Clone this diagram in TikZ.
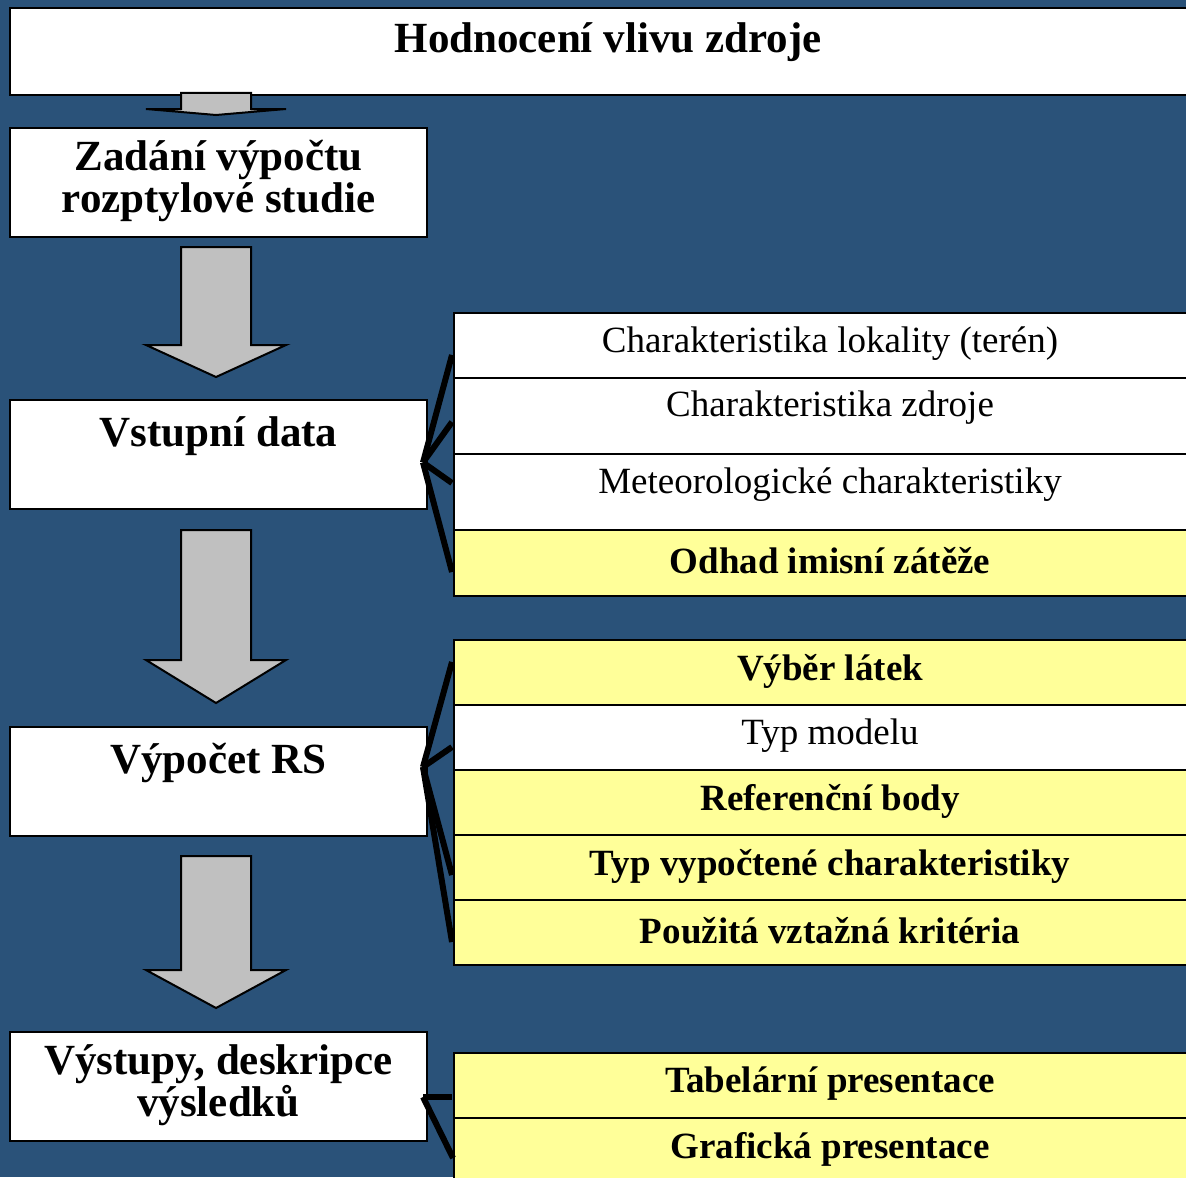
\documentclass[tikz,border=0pt]{standalone}
\usepackage{fontspec}
\setmainfont{Liberation Serif}
\usetikzlibrary{calc,positioning}

\definecolor{slide}{RGB}{42,82,121}
\definecolor{note}{RGB}{255,255,153}
\definecolor{shaft}{RGB}{192,192,192}

\tikzset{
  stagebox/.style={draw=black, line width=1pt, fill=white, rectangle, inner sep=0pt,
    outer sep=0pt, anchor=north west, minimum width=208.5pt, minimum height=54.5pt},
  rowbox/.style={draw=black, line width=1pt, fill=white, rectangle, inner sep=0pt,
    outer sep=0pt, anchor=north west, minimum width=376pt, minimum height=32.5pt},
  rowhi/.style={rowbox, fill=note},
  stagetxt/.style={font=\fontsize{21.5}{18.5}\selectfont\bfseries, align=center, inner sep=0pt},
  rowtxt/.style={font=\fontsize{18.5}{22}\selectfont, inner sep=0pt},
  rowbold/.style={rowtxt, font=\fontsize{18.5}{22}\selectfont\bfseries},
  blockarrow/.style={draw=black, line width=1pt, fill=shaft, line join=miter},
  brack/.style={draw=black, line width=3pt}
}

% block arrow: top, neck, tip (y values)
\newcommand{\blockarr}[3]{%
  \draw[blockarrow] (181,#1) -- (251,#1) -- (251,#2) -- (286,#2) -- (216,#3)
    -- (146,#2) -- (181,#2) -- cycle;}

\begin{document}
\begin{tikzpicture}[x=0.5pt, y=-0.5pt]
    \fill[slide] (0,0) rectangle (1186,1177);
    \useasboundingbox (0,0) rectangle (1186,1177);
    \clip (0,0) rectangle (1186,1177);

    % Left column
    \node[stagebox, minimum width=598pt, minimum height=43.5pt] (hod) at (10,8) {};
    \node[stagetxt] (hodT) at ($(hod.north)+(0,34)$) {Hodnocení vlivu zdroje};

    \blockarr{93}{109}{115}

    \node[stagebox] (zad) at (10,128) {};
    \node[stagetxt] (zadT) at ($(zad.north)+(0,53)$) {Zadání výpočtu\\rozptylové studie};

    \node[stagebox] (vst) at (10,400) {};
    \node[stagetxt] (vstT) at ($(vst.north)+(0,36)$) {Vstupní data};

    \node[stagebox] (vyp) at (10,727) {};
    \node[stagetxt] (vypT) at ($(vyp.north)+(0,36)$) {Výpočet RS};

    \node[stagebox] (vys) at (10,1032) {};
    \node[stagetxt] (vysT) at ($(vys.north)+(0,53)$) {Výstupy, deskripce\\výsledků};

    % Arrows between stages
    \blockarr{247}{345}{377}
    \blockarr{530}{660}{703}
    \blockarr{856}{970}{1008}

    % Input data rows
    \node[rowbox] (lok) at (454,313) {};
    \node[rowbox, minimum height=38pt, below=0pt of lok] (zdr) {};
    \node[rowbox, minimum height=38pt, below=0pt of zdr] (met) {};
    \node[rowhi, minimum height=33pt, below=0pt of met] (odh) {};
    \node[rowtxt] (lokT) at ($(lok.north)+(0,31)$) {Charakteristika lokality (terén)};
    \node[rowtxt] (zdrT) at ($(zdr.north)+(0,30)$) {Charakteristika zdroje};
    \node[rowtxt] (metT) at ($(met.north)+(0,31)$) {Meteorologické charakteristiky};
    \node[rowbold] (odhT) at ($(odh.north)+(0,31)$) {Odhad imisní zátěže};

    % Calculation rows
    \node[rowhi] (lat) at (454,640) {};
    \node[rowbox, below=0pt of lat] (mod) {};
    \node[rowhi, below=0pt of mod] (ref) {};
    \node[rowhi, below=0pt of ref] (cha) {};
    \node[rowhi, below=0pt of cha] (kri) {};
    \node[rowbold] (latT) at ($(lat.north)+(0,31)$) {Výběr látek};
    \node[rowtxt] (modT) at ($(mod.north)+(0,31)$) {Typ modelu};
    \node[rowbold] (refT) at ($(ref.north)+(0,31)$) {Referenční body};
    \node[rowbold] (chaT) at ($(cha.north)+(0,31)$) {Typ vypočtené charakteristiky};
    \node[rowbold] (kriT) at ($(kri.north)+(0,31)$) {Použitá vztažná kritéria};

    % Output rows
    \node[rowhi] (tab) at (454,1053) {};
    \node[rowhi, below=0pt of tab] (gra) {};
    \node[rowbold] (tabT) at ($(tab.north)+(0,31)$) {Tabelární presentace};
    \node[rowbold] (graT) at ($(gra.north)+(0,31)$) {Grafická presentace};

    % Brackets
    \coordinate (vstJ) at ($(vst.east)+(-4,8)$);
    \draw[brack] (vstJ) -- ($(lok.west)+(-2,9.5)$);
    \draw[brack] (vstJ) -- ($(zdr.west)+(-2,6)$);
    \draw[brack] (vstJ) -- ($(met.west)+(-2,-9)$);
    \draw[brack] (vstJ) -- ($(odh.west)+(-2,9)$);

    \coordinate (vypJ) at ($(vyp.east)+(-4,-14.5)$);
    \draw[brack] (vypJ) -- ($(lat.west)+(-2,-10.5)$);
    \draw[brack] (vypJ) -- ($(mod.west)+(-2,9.5)$);
    \draw[brack] (vypJ) -- ($(cha.west)+(-2,7.5)$);
    \draw[brack] (vypJ) -- ($(kri.west)+(-2,9.5)$);

    \coordinate (vysJ) at ($(vys.east)+(-4,10.5)$);
    \draw[brack] (vysJ) -- ($(tab.west)+(-2,11.5)$);
    \draw[brack] (vysJ) -- ($(gra.west)+(-1,7.5)$);
\end{tikzpicture}
\end{document}
